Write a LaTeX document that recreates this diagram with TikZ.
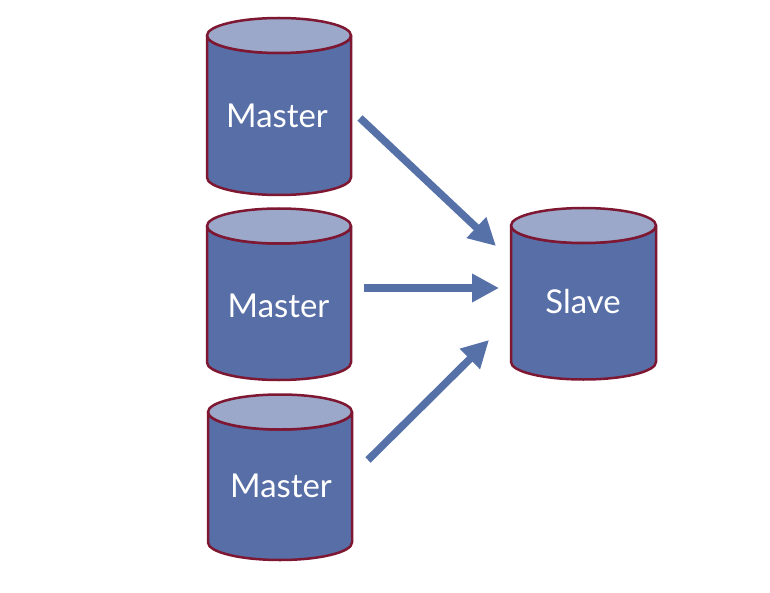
\documentclass[tikz,border=0pt]{standalone}
\usepackage{fontspec}
\setmainfont{Lato}
\usetikzlibrary{arrows.meta}
\definecolor{bodyblue}{HTML}{576EA6}
\definecolor{topblue}{HTML}{9BA8C9}
\definecolor{rimred}{HTML}{7E1732}
\definecolor{arrowblue}{HTML}{5670A8}
\tikzset{
  rim/.style={draw=rimred, line width=2.5bp, line join=round},
  dblabel/.style={text=white, font=\fontsize{33}{33}\selectfont, inner sep=0pt, anchor=base},
  flow/.style={draw=arrowblue, line width=7.5bp, -{Triangle[width=27bp,length=27bp]}}
}
\newcommand{\dbcyl}[4]{% left x, right x, top centre y, bottom centre y
  \pgfmathsetmacro{\cx}{(#1+#2)/2}
  \pgfmathsetmacro{\rx}{(#2-#1)/2}
  \path[rim, fill=bodyblue] (#1,#3) -- (#1,#4)
     arc[start angle=180, end angle=0, x radius=\rx, y radius=17.5]
     -- (#2,#3) arc[start angle=0, end angle=180, x radius=\rx, y radius=17.5] -- cycle;
  \path[rim, fill=topblue] (\cx,#3) ellipse[x radius=\rx, y radius=17.5];
}
\begin{document}
\begin{tikzpicture}[x=1bp, y=-1bp]
\useasboundingbox (0,0) rectangle (770,593);
\dbcyl{207}{351}{35.5}{177.5}
\dbcyl{207}{351}{226}{362.5}
\dbcyl{208}{352}{412}{542.5}
\dbcyl{511}{656}{225.5}{362}
\node[dblabel] (m1) at (277,128) {Master};
\node[dblabel] (m2) at (278.5,317) {Master};
\node[dblabel] (m3) at (281,497) {Master};
\node[dblabel] (s) at (583,313) {Slave};
\coordinate (a1s) at (360,118);
\coordinate (a1e) at (496,246);
\coordinate (a2s) at (364,288);
\coordinate (a2e) at (499,288);
\coordinate (a3s) at (368,460);
\coordinate (a3e) at (489,340);
\draw[flow] (a1s) -- (a1e);
\draw[flow] (a2s) -- (a2e);
\draw[flow] (a3s) -- (a3e);
\end{tikzpicture}
\end{document}
